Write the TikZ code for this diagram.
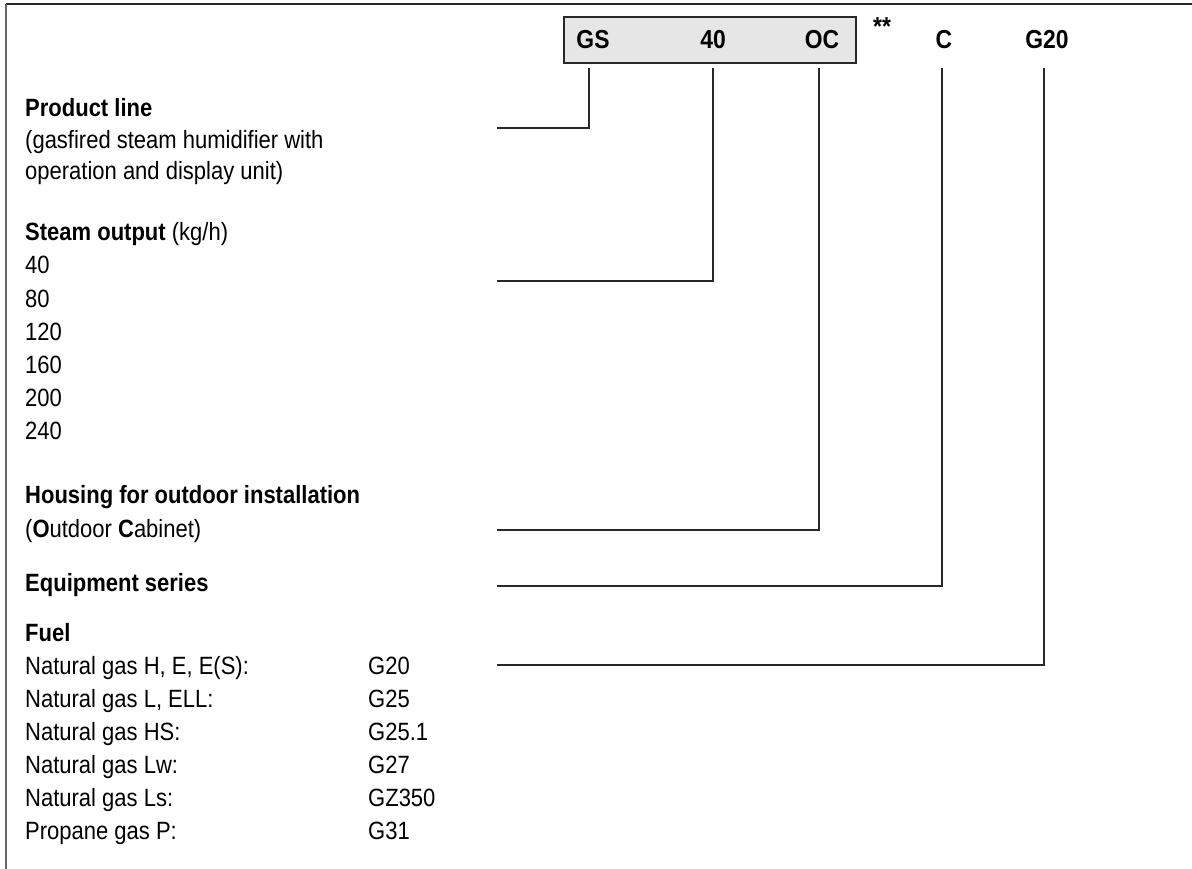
\documentclass[tikz,border=0pt]{standalone}
\usepackage{fontspec}
\setmainfont{Liberation Sans}[FakeStretch=0.88]
\usepackage{tikz}
\usetikzlibrary{positioning}
\definecolor{frameink}{RGB}{40,40,40}
\definecolor{boxfill}{RGB}{230,230,230}
\newcommand{\txtsize}{\fontsize{25}{30}\selectfont}
\newcommand{\keysize}{\fontsize{26}{31}\selectfont}

\tikzset{
  lbl/.style={anchor=base west, inner sep=0pt, font=\txtsize},
  head/.style={lbl, font=\txtsize\bfseries},
  code/.style={inner sep=0pt, minimum height=56pt, font=\keysize\bfseries},
  conn/.style={draw=frameink, line width=1.4pt}
}

\begin{document}
\begin{tikzpicture}[x=1pt, y=-1pt]
  \useasboundingbox (0,0) rectangle (1192,869);

  % frame (top and left only)
  \draw[frameink, line width=2.2pt] (6,4) -- (1192,4);
  \draw[gray!80!black, line width=2pt] (6,4) -- (6,869);

  % type key
  \node[draw=frameink, fill=boxfill, line width=1.3pt, minimum width=292pt,
        minimum height=46pt] (keybox) at (710,40) {};
  \node[code] (kGS) at (593,40) {GS};
  \node[code] (k40) at (713,40) {40};
  \node[code] (kOC) at (822,40) {OC};
  \node[code] (kC) at (944,40) {C};
  \node[code] (kG20) at (1047,40) {G20};
  \node[font=\keysize\bfseries, inner sep=0pt] (kstar) at (882,27) {**};

  % product line
  \node[head] (hProd) at (25,117) {Product line};
  \node[lbl] (tProd1) at (25,149) {(gasfired steam humidifier with};
  \node[lbl] (tProd2) at (25,180) {operation and display unit)};

  % steam output
  \node[head] (hSteam) at (25,241) {Steam output \normalfont(kg/h)};
  \foreach \v [count=\i] in {40,80,120,160,200,240}
    \node[lbl] (tSteam\i) at (25,{241+33*\i}) {\v};

  % housing
  \node[head] (hHouse) at (25,503) {Housing for outdoor installation};
  \node[lbl] (tHouse) at (25,537) {(\textbf{O}utdoor \textbf{C}abinet)};

  % series
  \node[head] (hSeries) at (25,591) {Equipment series};

  % fuel
  \node[head] (hFuel) at (25,641) {Fuel};
  \foreach \g/\c [count=\i] in {{Natural gas H, E, E(S):}/G20,
      {Natural gas L, ELL:}/G25, {Natural gas HS:}/G25.1,
      {Natural gas Lw:}/G27, {Natural gas Ls:}/GZ350,
      {Propane gas P:}/G31}{
    \node[lbl] (tFuel\i) at (25,{641+33*\i}) {\g};
    \node[lbl] (cFuel\i) at (368,{641+33*\i}) {\c};
  }

  % connector feet
  \coordinate (fProd) at (497,128);
  \coordinate (fSteam) at (497,281);
  \coordinate (fHouse) at (497,530);
  \coordinate (fSeries) at (497,586);
  \coordinate (fFuel) at (497,665);

  \draw[conn] (fProd) -| ([xshift=-4pt]kGS.south);
  \draw[conn] (fSteam) -| (k40.south);
  \draw[conn] (fHouse) -| ([xshift=-3pt]kOC.south);
  \draw[conn] (fSeries) -| ([xshift=-2pt]kC.south);
  \draw[conn] (fFuel) -| ([xshift=-3pt]kG20.south);
\end{tikzpicture}
\end{document}
